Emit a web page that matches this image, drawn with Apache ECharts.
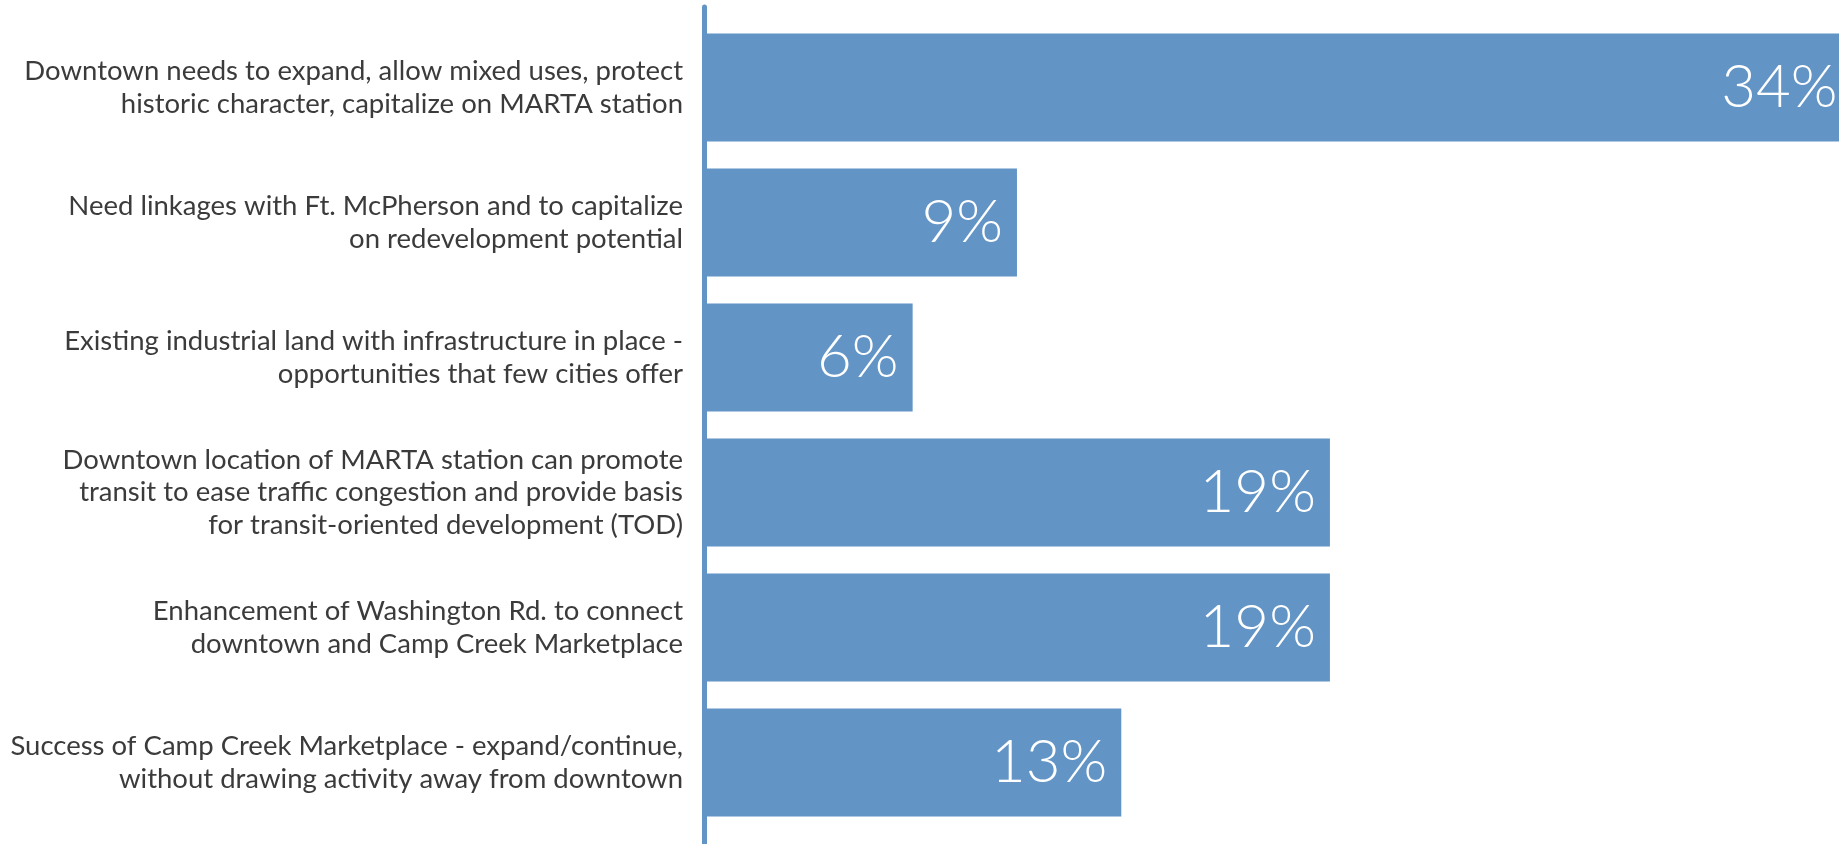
<!DOCTYPE html>
<html>
<head>
<meta charset="utf-8">
<script src="https://cdn.jsdelivr.net/npm/echarts@6/dist/echarts.min.js"></script>
<style>
html,body{margin:0;padding:0;background:#fff;}
#chart{width:1839px;height:844px;}
</style>
</head>
<body>
<div id="chart"></div>
<script>
// Categories (top to bottom), with the line breaks used in the reference
const categories = [
  "Downtown needs to expand, allow mixed uses, protect\nhistoric character, capitalize on MARTA station",
  "Need linkages with Ft. McPherson and to capitalize\non redevelopment potential",
  "Existing industrial land with infrastructure in place -\nopportunities that few cities offer",
  "Downtown location of MARTA station can promote\ntransit to ease traffic congestion and provide basis\nfor transit-oriented development (TOD)",
  "Enhancement of Washington Rd. to connect\ndowntown and Camp Creek Marketplace",
  "Success of Camp Creek Marketplace - expand/continue,\nwithout drawing activity away from downtown"
];
// Share of responses (%)
const shares = [34.375, 9.375, 6.25, 18.75, 18.75, 12.5];

const BLUE = '#6294c6';

const chart = echarts.init(document.getElementById('chart'), null, {renderer: 'canvas'});
chart.setOption({
  animation: false,
  backgroundColor: '#ffffff',
  grid: [
    {left: 704, right: 0, top: 20, height: 810, containLabel: false},
    {left: 704, width: 10, top: 7, bottom: 0, containLabel: false}
  ],
  xAxis: [
    {type: 'value', gridIndex: 0, min: 0, max: 34, show: false},
    {type: 'value', gridIndex: 1, min: 0, max: 1, show: false}
  ],
  yAxis: [
    {
      type: 'category', gridIndex: 0, data: categories, inverse: true,
      axisLine: {show: false},
      axisTick: {show: false},
      splitLine: {show: false},
      axisLabel: {
        margin: 21, align: 'right', padding: [0, 0, 6, 0],
        color: '#3b3b3b', fontFamily: 'Lato', fontSize: 27.5, lineHeight: 32.5
      }
    },
    {
      type: 'value', gridIndex: 1, min: 0, max: 1,
      axisLine: {show: true, lineStyle: {color: BLUE, width: 5, cap: 'round'}},
      axisTick: {show: false}, axisLabel: {show: false}, splitLine: {show: false}
    }
  ],
  series: [{
    type: 'bar',
    xAxisIndex: 0, yAxisIndex: 0,
    data: shares,
    barWidth: 108,
    clip: false,
    itemStyle: {color: BLUE},
    label: {
      show: true, position: 'insideRight', distance: 14,
      color: '#ffffff', fontFamily: 'Lato', fontWeight: 300, fontSize: 60,
      formatter: p => Math.round(p.value) + '%'
    }
  }]
});
</script>
</body>
</html>
